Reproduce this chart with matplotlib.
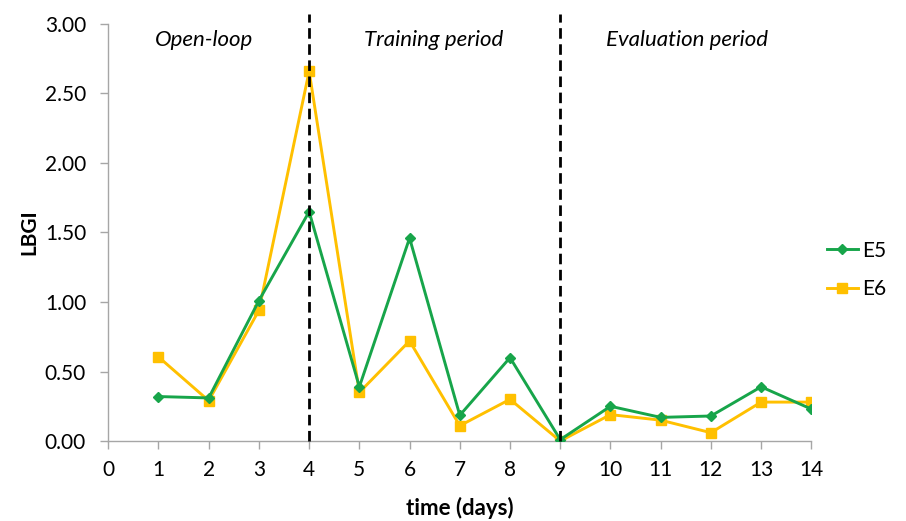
import matplotlib
matplotlib.use("Agg")
import matplotlib.pyplot as plt

# data
days = [1, 2, 3, 4, 5, 6, 7, 8, 9, 10, 11, 12, 13, 14]
e5 = [0.32, 0.31, 1.01, 1.65, 0.39, 1.46, 0.185, 0.60, 0.01, 0.25, 0.17, 0.18, 0.39, 0.23]
e6 = [0.605, 0.29, 0.94, 2.66, 0.35, 0.72, 0.11, 0.30, 0.0, 0.19, 0.15, 0.06, 0.28, 0.28]
phase_lines = [4, 9]
phase_names = ["Open-loop", "Training period", "Evaluation period"]
phase_x = [1.9, 6.47, 11.53]
yticks = [0, 0.5, 1.0, 1.5, 2.0, 2.5, 3.0]

plt.rcParams['font.family'] = ['Lato', 'DejaVu Sans']

fig = plt.figure(figsize=(9.06, 5.21), dpi=100)
ax = fig.add_axes([0.1195, 0.1535, 0.776, 0.8005])

green = '#17a54a'
gold = '#ffc000'

ax.plot(days, e5, color=green, lw=2.1, marker='D', ms=5, label='E5', zorder=3)
ax.plot(days, e6, color=gold, lw=2.1, marker='s', ms=7.5, label='E6', zorder=2)

for xv in phase_lines:
    ax.plot([xv, xv], [0, 3.07], color='black', lw=2.0,
            linestyle=(0, (3.8, 2.0)), clip_on=False, zorder=4)

for name, xv in zip(phase_names, phase_x):
    ax.text(xv, 2.885, name, ha='center', va='center', fontsize=16, style='italic')

ax.set_xlim(0, 14)
ax.set_ylim(0, 3)
ax.set_xticks(range(0, 15))
ax.set_yticks(yticks)
ax.set_yticklabels(["%.2f" % v for v in yticks])

for s in ['top', 'right']:
    ax.spines[s].set_visible(False)
for s in ['left', 'bottom']:
    ax.spines[s].set_color('#a6a6a6')
    ax.spines[s].set_linewidth(1.0)
ax.tick_params(axis='both', colors='#a6a6a6', labelcolor='black', labelsize=15,
               length=6, width=1.0)
ax.tick_params(axis='x', pad=8)
ax.tick_params(axis='y', pad=10)

ax.set_xlabel('time (days)', fontsize=16, fontweight='bold', labelpad=12)
ax.set_ylabel('LBGI', fontsize=15, fontweight='bold', labelpad=4)

ax.legend(loc='center left', bbox_to_anchor=(0.995, 0.41), frameon=False,
          fontsize=15, handlelength=1.5, handletextpad=0.2, labelspacing=0.9)

fig.savefig('out.png', dpi=100)
